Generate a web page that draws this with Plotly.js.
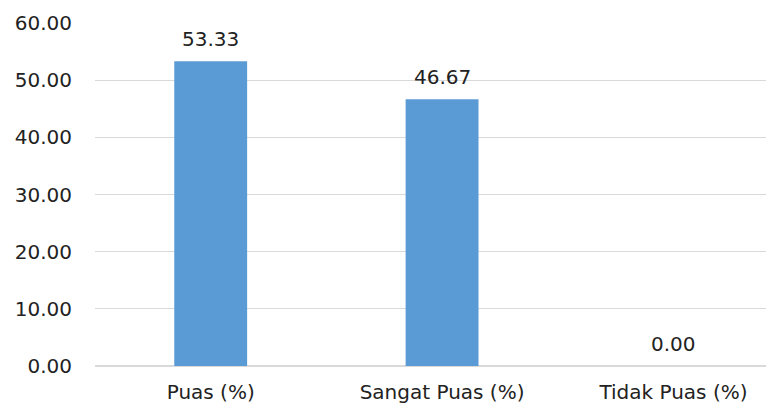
<!DOCTYPE html>
<html>
<head>
<meta charset="utf-8">
<script src="https://cdn.plot.ly/plotly-3.0.1.min.js"></script>
<style>html,body{margin:0;padding:0;background:#fff;}#chart{width:766px;height:405px;}</style>
</head>
<body>
<div id="chart"></div>
<script>
const categories = ["Puas (%)", "Sangat Puas (%)", "Tidak Puas (%)"];
const values = [53.33, 46.67, 0.00];
const yTicks = [0, 10, 20, 30, 40, 50, 60];

const FONT = "DejaVu Sans, sans-serif";
const TXT = "#222222";

const trace = {
  type: "bar",
  x: categories,
  y: values,
  marker: {color: "#5B9BD5"},
  width: 0.315,
  hoverinfo: "none"
};

const annotations = categories.map((c, i) => ({
  x: c, y: values[i], xref: "x", yref: "y",
  text: values[i].toFixed(2),
  showarrow: false, yanchor: "bottom", yshift: 8,
  font: {family: FONT, size: 20, color: TXT}
}));

const layout = {
  width: 766, height: 405,
  margin: {l: 95, r: 0, t: 23, b: 39},
  paper_bgcolor: "#fff", plot_bgcolor: "#fff",
  showlegend: false,
  font: {family: FONT, size: 20, color: TXT},
  annotations: annotations,
  xaxis: {
    type: "category",
    range: [-0.5, 2.4],
    showgrid: false, zeroline: false, showline: false,
    ticks: "", ticklabelstandoff: 12,
    tickfont: {family: FONT, size: 20, color: TXT}
  },
  yaxis: {
    range: [0, 60],
    tickvals: yTicks,
    ticktext: yTicks.map(v => v.toFixed(2)),
    showgrid: true, gridcolor: "#d9d9d9", gridwidth: 1.3,
    zeroline: true, zerolinecolor: "#d9d9d9", zerolinewidth: 1.3,
    showline: false, ticks: "", ticklabelstandoff: 22,
    tickfont: {family: FONT, size: 20, color: TXT}
  }
};

Plotly.newPlot("chart", [trace], layout, {displayModeBar: false, staticPlot: true});
</script>
</body>
</html>
